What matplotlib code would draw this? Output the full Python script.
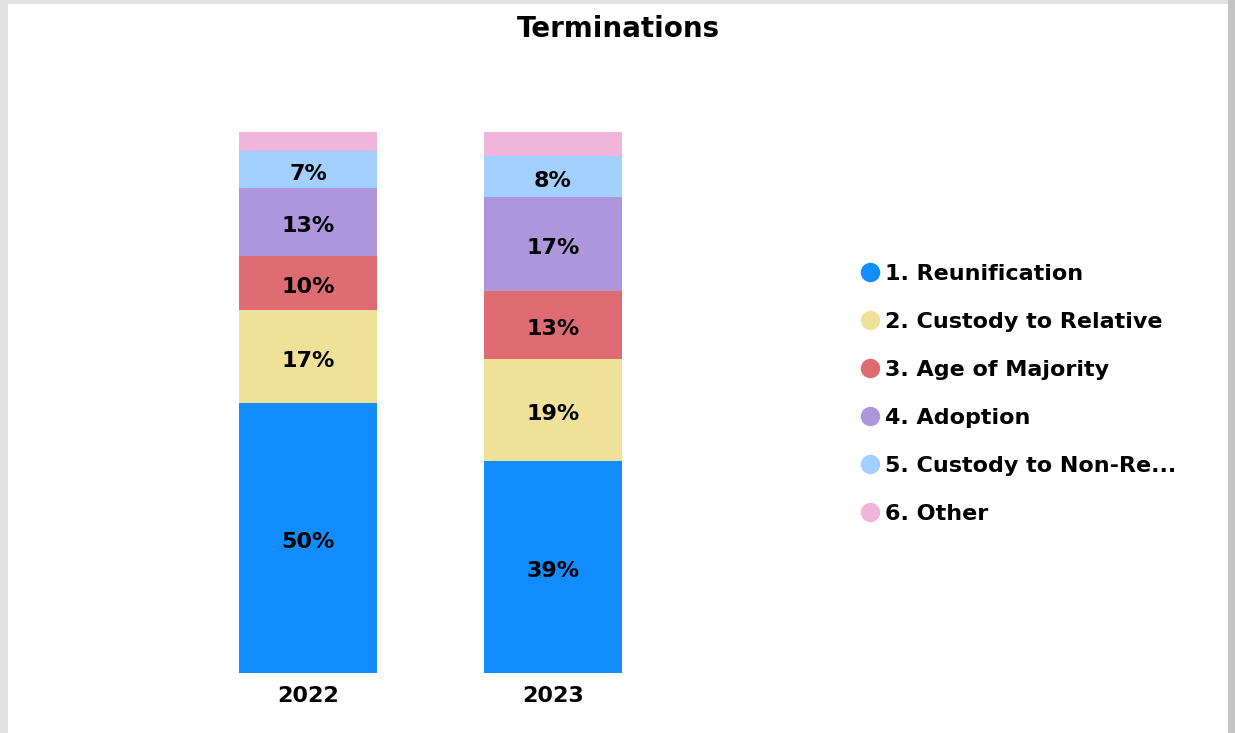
import matplotlib.pyplot as plt
from matplotlib.lines import Line2D
from matplotlib.patches import Rectangle
import numpy as np

# === Data ===
years = ["2022", "2023"]
categories = [
    "1. Reunification",
    "2. Custody to Relative",
    "3. Age of Majority",
    "4. Adoption",
    "5. Custody to Non-Re...",
    "6. Other",
]
reunification = [49.9, 39.2]
custody_relative = [17.2, 18.9]
age_majority = [10.0, 12.6]
adoption = [12.6, 17.2]
custody_nonrel = [6.7, 7.6]
other = [3.6, 4.5]

colors = ["#118DFF", "#F0E199", "#DF6B72", "#AD96DC", "#A3D1FF", "#F1B4DB"]

plt.rcParams["font.family"] = ["DejaVu Sans"]
plt.rcParams["font.weight"] = "bold"

# === Plot ===
fig = plt.figure(figsize=(12.35, 7.33), dpi=100, facecolor="#e2e2e2")
# white card with grey frame around it
fig.patches.append(Rectangle((8 / 1235, 0), 1220 / 1235, 729 / 733,
                             transform=fig.transFigure, facecolor="white",
                             edgecolor="none", zorder=-10))
fig.patches.append(Rectangle((1228 / 1235, 0), 7 / 1235, 1,
                             transform=fig.transFigure, facecolor="#c4c4c4",
                             edgecolor="none", zorder=-10))

ax = fig.add_axes([185.5 / 1235, 60 / 733, 490 / 1235, 541 / 733])
ax.set_facecolor("none")

series = [reunification, custody_relative, age_majority, adoption, custody_nonrel, other]
x = np.arange(len(years))
bottom = np.zeros(len(years))
for vals, col in zip(series, colors):
    bars = ax.bar(x, vals, width=0.563, bottom=bottom, color=col, edgecolor="none")
    for rect, v in zip(bars, vals):
        if v >= 5:
            ax.annotate(f"{round(v):.0f}%",
                        (rect.get_x() + rect.get_width() / 2, rect.get_y() + v / 2),
                        xytext=(0, -1.5), textcoords="offset points",
                        ha="center", va="center_baseline",
                        fontsize=16, fontweight="bold", color="black")
    bottom += np.array(vals)

ax.set_xlim(-0.5, 1.5)
ax.set_ylim(0, 100)
ax.set_xticks(x)
ax.set_xticklabels(years, fontsize=16, fontweight="bold")
ax.tick_params(axis="x", length=0, pad=9.5)
ax.set_yticks([])
for s in ax.spines.values():
    s.set_visible(False)

fig.text(618 / 1235, 1 - 29 / 733, "Terminations", ha="center", va="center",
         fontsize=20, fontweight="bold")

handles = [Line2D([], [], marker="o", linestyle="none", markersize=14,
                  markerfacecolor=c, markeredgecolor="none") for c in colors]
fig.legend(handles, categories, loc="upper left",
           bbox_to_anchor=(849 / 1235, 1 - 255 / 733), frameon=False,
           prop={"size": 16, "weight": "bold"}, handletextpad=0.1,
           labelspacing=1.26, handlelength=1.1, borderaxespad=0)

fig.savefig("out.png", dpi=100, facecolor=fig.get_facecolor())
